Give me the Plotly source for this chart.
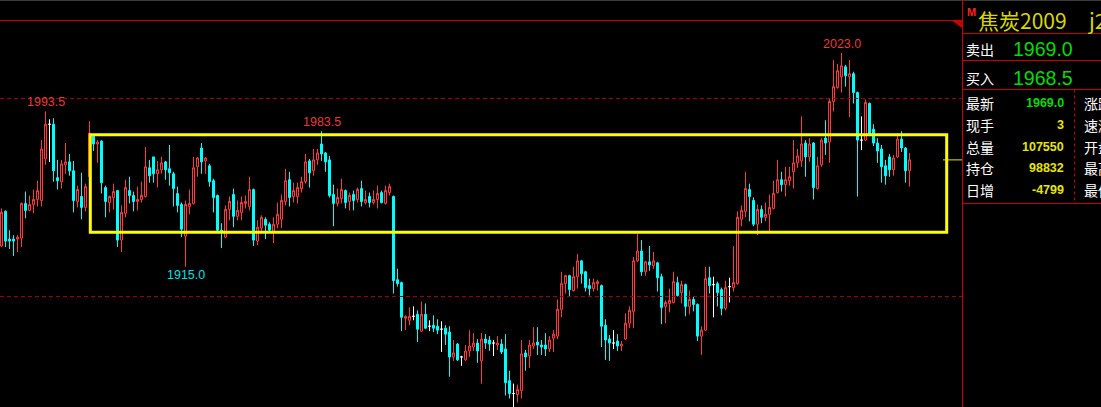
import plotly.graph_objects as go

# 焦炭2009 (j2009) bars, oldest first
opens = [
    1925.5, 1943, 1929, 1929, 1929, 1929.5, 1947, 1943.5, 1946.5, 1949,
    1948.5, 1969.5, 1987, 1987, 1960, 1958, 1966.5, 1968, 1963.5, 1948,
    1950.5, 1945, 1960.5, 1981, 1977, 1978.5, 1955, 1947.5, 1950, 1953.5,
    1928.5, 1942, 1953.5, 1951, 1948, 1949, 1950.5, 1965, 1970.5, 1962,
    1964, 1968, 1964.5, 1962, 1952, 1946.5, 1930.5, 1945.5, 1947, 1965.5,
    1975, 1968.5, 1966, 1958.5, 1951, 1933.5, 1930, 1944, 1951.5, 1940.5,
    1942.5, 1947, 1945.5, 1954, 1928, 1934.5, 1939, 1936.5, 1933, 1936.5,
    1939, 1948, 1959, 1950.5, 1950.5, 1954.5, 1958, 1968.5, 1963.5, 1969,
    1977, 1972.5, 1969, 1951.5, 1947, 1949.5, 1953.5, 1948, 1951.5, 1949,
    1954.5, 1947.5, 1950.5, 1947.5, 1949, 1952.5, 1947, 1952.5, 1950.5, 1908.5,
    1907, 1889, 1888, 1890, 1891, 1882.5, 1891, 1885, 1885.5, 1885,
    1883.5, 1884, 1882, 1869.5, 1876, 1869.5, 1868, 1872.5, 1874.5, 1876.5,
    1867.5, 1878.5, 1878, 1876.5, 1875.5, 1876, 1873.5, 1857.5, 1851, 1850.5,
    1852.5, 1871.5, 1870, 1875, 1877, 1875.5, 1875.5, 1873.5, 1879, 1880,
    1893.5, 1906.5, 1910.5, 1903, 1910, 1918, 1912.5, 1905.5, 1904, 1906.5,
    1905.5, 1885.5, 1878.5, 1876.5, 1877.5, 1875, 1878.5, 1886.5, 1892.5, 1918,
    1923, 1912.5, 1917.5, 1915.5, 1917, 1910, 1895, 1896.5, 1897, 1907,
    1902, 1906, 1895, 1898.5, 1896, 1880, 1883, 1909.5, 1906, 1906.5,
    1903.5, 1894, 1905, 1904.5, 1906.5, 1939, 1943, 1954, 1948.5, 1936.5,
    1944, 1940, 1941.5, 1944.5, 1952.5, 1959, 1956.5, 1958.5, 1963, 1967.5,
    1968.5, 1977.5, 1970.5, 1977.5, 1954.5, 1966.5, 1980, 1978, 1998.5, 2005.5,
    2011, 2016, 2011, 2012.5, 2003, 1979, 1979, 1997.5, 1984.5, 1977.5,
    1974.5, 1966, 1970.5, 1964, 1970.5, 1979.5, 1975, 1963.5,
]
highs = [
    1944.5, 1943.5, 1933.5, 1931, 1931, 1947.5, 1953, 1951, 1954, 1958.5,
    1979, 1993.5, 1989.5, 1990, 1969, 1969, 1977.5, 1972, 1968.5, 1956,
    1962.5, 1957, 1988.5, 1981, 1979, 1979, 1956, 1951, 1957, 1953.5,
    1946, 1959, 1960.5, 1953, 1955.5, 1958, 1975.5, 1969, 1970.5, 1968.5,
    1970.5, 1968.5, 1976.5, 1963, 1955.5, 1947.5, 1948.5, 1954, 1970.5, 1970.5,
    1977.5, 1970.5, 1967, 1959.5, 1951.5, 1937, 1946, 1950.5, 1954.5, 1948.5,
    1950.5, 1951, 1960.5, 1954.5, 1938.5, 1941, 1940, 1937.5, 1940, 1947.5,
    1951.5, 1964.5, 1963, 1957.5, 1957.5, 1960.5, 1972, 1969.5, 1974.5, 1974.5,
    1983.5, 1973, 1971, 1956.5, 1954.5, 1959.5, 1954, 1952.5, 1953.5, 1955,
    1958.5, 1953.5, 1952.5, 1953.5, 1956, 1953.5, 1956, 1957, 1951, 1914,
    1907.5, 1890.5, 1894.5, 1895, 1893, 1897.5, 1896.5, 1888, 1890.5, 1888.5,
    1887.5, 1885.5, 1885, 1878, 1876.5, 1870, 1875.5, 1883, 1881.5, 1878.5,
    1881.5, 1881, 1880, 1878, 1880, 1878.5, 1881, 1862.5, 1856, 1855.5,
    1878, 1873, 1878, 1884.5, 1884.5, 1878, 1881.5, 1880, 1883, 1898.5,
    1912.5, 1911, 1911, 1915, 1921.5, 1918.5, 1913, 1909, 1909, 1908.5,
    1906, 1888.5, 1880.5, 1883, 1881, 1877.5, 1891.5, 1895, 1920, 1931.5,
    1928.5, 1918, 1925.5, 1922.5, 1917.5, 1911.5, 1898, 1904, 1912.5, 1910,
    1908, 1906.5, 1903, 1900, 1896.5, 1885, 1915, 1915, 1910, 1907.5,
    1904.5, 1908, 1909.5, 1925.5, 1943, 1946, 1963, 1957, 1950, 1946.5,
    1946, 1947.5, 1951.5, 1958.5, 1969, 1963, 1965.5, 1965.5, 1979, 1974.5,
    1991, 1979, 1980, 1978, 1970.5, 1980, 1989, 2000, 2019.5, 2017.5,
    2023, 2017, 2019.5, 2013.5, 2003.5, 1991, 1999.5, 1998, 1987, 1980,
    1976.5, 1969, 1972, 1971.5, 1982.5, 1983.5, 1975.5, 1972.5,
]
lows = [
    1925, 1925, 1924, 1920.5, 1922.5, 1925, 1939.5, 1943, 1942, 1945.5,
    1945.5, 1966.5, 1968, 1958, 1954, 1954.5, 1962, 1961, 1942.5, 1945,
    1939, 1943, 1960, 1973.5, 1967.5, 1952, 1940, 1942.5, 1944, 1925,
    1922.5, 1940, 1947, 1943, 1943.5, 1947.5, 1950, 1957.5, 1957.5, 1955,
    1962, 1959, 1956, 1945.5, 1942.5, 1930, 1915, 1941.5, 1946.5, 1960.5,
    1962, 1962, 1955.5, 1942.5, 1933, 1924.5, 1929.5, 1938.5, 1935, 1938.5,
    1938.5, 1944.5, 1943.5, 1925.5, 1926, 1932.5, 1929, 1933, 1927, 1934.5,
    1934.5, 1946, 1945.5, 1947.5, 1947, 1952.5, 1957, 1955, 1961, 1966.5,
    1968.5, 1963, 1950, 1935.5, 1945.5, 1947, 1944.5, 1943.5, 1943.5, 1947.5,
    1945.5, 1946.5, 1945, 1946.5, 1944.5, 1947, 1946.5, 1951, 1901.5, 1905,
    1882.5, 1883, 1885.5, 1888, 1877, 1882, 1883.5, 1882.5, 1882, 1881,
    1872, 1875.5, 1859.5, 1867.5, 1867.5, 1865, 1867.5, 1869.5, 1872.5, 1866.5,
    1856, 1873.5, 1872.5, 1870, 1873, 1871, 1850, 1848.5, 1843.5, 1846.5,
    1848.5, 1862.5, 1864, 1873.5, 1870.5, 1870.5, 1870, 1872, 1872, 1878.5,
    1889.5, 1901.5, 1900, 1902.5, 1904, 1906.5, 1902.5, 1900.5, 1902.5, 1903,
    1874.5, 1868, 1867.5, 1873.5, 1872.5, 1872.5, 1878, 1884, 1884, 1917.5,
    1910.5, 1910.5, 1913, 1914, 1902.5, 1886, 1886.5, 1892, 1896.5, 1900,
    1896.5, 1890, 1891, 1892.5, 1877.5, 1870.5, 1882.5, 1901.5, 1889.5, 1895,
    1890.5, 1893, 1897, 1902.5, 1906, 1935.5, 1940, 1938, 1935.5, 1931,
    1937, 1938, 1933, 1944, 1952, 1953, 1950.5, 1956, 1954.5, 1965,
    1965.5, 1960.5, 1968, 1949, 1954, 1965.5, 1971.5, 1967.5, 1993.5, 2005,
    2003, 2006, 1990.5, 1997.5, 1950.5, 1974, 1978.5, 1981, 1976, 1967.5,
    1957.5, 1956.5, 1960.5, 1961, 1970, 1973, 1957.5, 1955.5,
]
closes = [
    1942.5, 1928, 1928, 1928, 1930, 1947, 1943.5, 1946.5, 1949, 1953.5,
    1974.5, 1987, 1987, 1963.5, 1958.5, 1967, 1968, 1963.5, 1948.5, 1954,
    1945, 1955.5, 1982.5, 1977, 1978, 1957.5, 1948, 1950.5, 1953, 1928.5,
    1942.5, 1955, 1951, 1948, 1949, 1951, 1965.5, 1961, 1962, 1964,
    1967.5, 1964, 1962.5, 1954.5, 1946, 1934, 1946.5, 1947, 1965, 1970,
    1968, 1970, 1958, 1950, 1933.5, 1932.5, 1944, 1948, 1940.5, 1943.5,
    1947.5, 1948, 1954, 1928.5, 1935, 1940, 1936, 1933.5, 1936.5, 1941.5,
    1948.5, 1958.5, 1950, 1953.5, 1955, 1958, 1968, 1962.5, 1969, 1972.5,
    1972, 1968, 1951, 1947, 1950, 1954, 1947.5, 1951, 1948.5, 1954,
    1948, 1949, 1947.5, 1949, 1952, 1947.5, 1953.5, 1955.5, 1908, 1906.5,
    1889.5, 1890, 1890, 1890, 1883.5, 1891, 1884, 1885, 1884, 1883,
    1883.5, 1881, 1869.5, 1871.5, 1868, 1869.5, 1872.5, 1875, 1876.5, 1872.5,
    1878.5, 1876.5, 1876, 1876.5, 1876.5, 1872, 1856.5, 1851, 1851, 1853,
    1871, 1869.5, 1875.5, 1876.5, 1875.5, 1874.5, 1873.5, 1878, 1881, 1893.5,
    1906.5, 1910.5, 1903.5, 1910, 1918, 1911.5, 1904.5, 1904, 1907, 1907.5,
    1885, 1878, 1876.5, 1876.5, 1875, 1876, 1886.5, 1893, 1918, 1923,
    1912.5, 1917.5, 1916, 1918, 1909.5, 1894.5, 1897, 1898, 1907.5, 1900.5,
    1906, 1895, 1898.5, 1896, 1880, 1883, 1909, 1905.5, 1906, 1902,
    1894, 1904.5, 1905, 1907, 1940, 1943.5, 1954.5, 1950.5, 1936.5, 1944,
    1940, 1941.5, 1945, 1952, 1959, 1956.5, 1959, 1960.5, 1967.5, 1971,
    1977, 1970.5, 1977, 1955, 1966, 1979, 1977.5, 1998.5, 2006, 2014,
    2016.5, 2011.5, 2012.5, 2003, 1979, 1979, 1998, 1982, 1977.5, 1973.5,
    1965.5, 1961, 1964, 1970, 1979.5, 1975, 1963.5, 1969,
]

# bars whose high / low carry a price tag
high_tags = [11, 80, 210]
low_tags = [46]

# hand-drawn consolidation box (bar index span, price span)
box_bars = [22.2, 236.3]
box_prices = [1932.4, 1981.7]

# dashed reference levels
ref_levels = [1900, 2000]

# quote board
quote_title = "焦炭2009"
quote_code = "j2009"
ask_label, ask_price = "卖出", "1969.0"
bid_label, bid_price = "买入", "1968.5"
board_labels = ["最新", "现手", "总量", "持仓", "日增"]
board_values = ["1969.0", "3", "107550", "98832", "-4799"]
board_side = ["涨跌", "速涨", "开盘", "最高", "最低"]

W, H = 1101, 407
RED = "#FF3B3B"
CYAN = "#00FFFF"
FRAME = "#C80000"
YELLOW = "#FFFF00"
GREEN = "#00DC00"
CJK = "Noto Sans CJK SC"
SANS = "Liberation Sans"


def px(x):
    return x / W


def py(y):
    return 1 - y / H


n = len(opens)
with_body = [i for i in range(n) if opens[i] != closes[i]]
flat = [i for i in range(n) if opens[i] == closes[i]]


def pick(arr, ids):
    return [arr[i] for i in ids]


fig = go.Figure()
fig.add_trace(go.Candlestick(
    x=with_body,
    open=pick(opens, with_body), high=pick(highs, with_body),
    low=pick(lows, with_body), close=pick(closes, with_body),
    increasing=dict(line=dict(color=RED, width=1), fillcolor="#000000"),
    decreasing=dict(line=dict(color=CYAN, width=1), fillcolor=CYAN),
    whiskerwidth=0, hoverinfo="skip", showlegend=False,
))
fig.add_trace(go.Candlestick(
    x=flat,
    open=pick(opens, flat), high=pick(highs, flat),
    low=pick(lows, flat), close=pick(closes, flat),
    increasing=dict(line=dict(color="#FFFFFF", width=1), fillcolor="#FFFFFF"),
    decreasing=dict(line=dict(color="#FFFFFF", width=1), fillcolor="#FFFFFF"),
    whiskerwidth=0, hoverinfo="skip", showlegend=False,
))

shapes = []


def hline_px(y, x0, x1, color, width=1, dash=None):
    shapes.append(dict(type="line", xref="paper", yref="paper",
                       x0=px(x0), x1=px(x1), y0=py(y), y1=py(y),
                       line=dict(color=color, width=width, dash=dash)))


def vline_px(x, y0, y1, color, width=1, dash=None):
    shapes.append(dict(type="line", xref="paper", yref="paper",
                       x0=px(x), x1=px(x), y0=py(y0), y1=py(y1),
                       line=dict(color=color, width=width, dash=dash)))


# chart frame
hline_px(0.5, 0, W, "#3A3A3A")
hline_px(20.5, 0, 962, FRAME)
vline_px(962.5, 0, H, FRAME)
shapes.append(dict(type="path", xref="paper", yref="paper",
                   path=f"M {px(951)},{py(20)} L {px(962)},{py(20)} L {px(962)},{py(28)} Z",
                   fillcolor=FRAME, line=dict(width=0)))

# dashed price levels
for lvl in ref_levels:
    shapes.append(dict(type="line", xref="paper", yref="y",
                       x0=0, x1=px(962), y0=lvl, y1=lvl,
                       line=dict(color="#A00000", width=1, dash="4px,3px")))

# consolidation box
shapes.append(dict(type="rect", xref="x", yref="y",
                   x0=box_bars[0], x1=box_bars[1], y0=box_prices[0], y1=box_prices[1],
                   line=dict(color=YELLOW, width=3), fillcolor="rgba(0,0,0,0)"))

# last price marker
shapes.append(dict(type="line", xref="paper", yref="y",
                   x0=px(943), x1=px(962), y0=closes[-1], y1=closes[-1],
                   line=dict(color="#E6E600", width=1)))

# quote board grid
for y in (33.5, 60.5, 89.5, 203.5):
    hline_px(y, 962, W, FRAME)
vline_px(1074.5, 89.5, 203.5, FRAME, dash="3px,3px")

annotations = []

for i in high_tags:
    annotations.append(dict(x=i, y=highs[i], xref="x", yref="y",
                            text=f"{highs[i]:.1f}", showarrow=False,
                            xanchor="center", yanchor="bottom", yshift=0,
                            font=dict(family=SANS, size=12.5, color="#E83A3A")))
for i in low_tags:
    annotations.append(dict(x=i, y=lows[i], xref="x", yref="y",
                            text=f"{lows[i]:.1f}", showarrow=False,
                            xanchor="center", yanchor="top", yshift=1,
                            font=dict(family=SANS, size=12.5, color="#00E0E0")))


def label(x, y, text, size, color, family=CJK, anchor="left"):
    annotations.append(dict(x=px(x), y=py(y), xref="paper", yref="paper",
                            text=text, showarrow=False, xanchor=anchor,
                            yanchor="middle", borderpad=0,
                            font=dict(family=family, size=size, color=color)))


label(966, 12.5, "<b>M</b>", 11, "#FF2020", family=SANS)
label(977, 19.5, quote_title, 21, "#D8D800")
label(1087, 19.5, quote_code, 21, "#D8D800")

label(965, 48.5, ask_label, 14, "#FFFFFF")
label(1074, 48.5, ask_price, 19.5, GREEN, family=SANS, anchor="right")
label(965, 77.5, bid_label, 14, "#FFFFFF")
label(1074, 77.5, bid_price, 19.5, GREEN, family=SANS, anchor="right")

for r, (name, val, side) in enumerate(zip(board_labels, board_values, board_side)):
    y = 103.5 + 21.6 * r
    label(965, y, name, 14, "#FFFFFF")
    label(1065, y, f"<b>{val}</b>", 12.5, GREEN if r == 0 else "#E6E600",
          family=SANS, anchor="right")
    label(1083, y, side, 14, "#FFFFFF")

fig.update_layout(
    width=W, height=H,
    margin=dict(l=0, r=0, t=0, b=0),
    paper_bgcolor="#000000", plot_bgcolor="#000000",
    showlegend=False, hovermode=False,
    boxmode="overlay", boxgap=0.5, boxgroupgap=0,
    xaxis=dict(range=[-0.375, W / 4 - 0.375], visible=False, fixedrange=True,
               rangeslider=dict(visible=False)),
    yaxis=dict(range=[1844.2, 2049.75], visible=False, fixedrange=True),
    shapes=shapes,
    annotations=annotations,
)

fig.write_html("out.html", config={"displayModeBar": False})
